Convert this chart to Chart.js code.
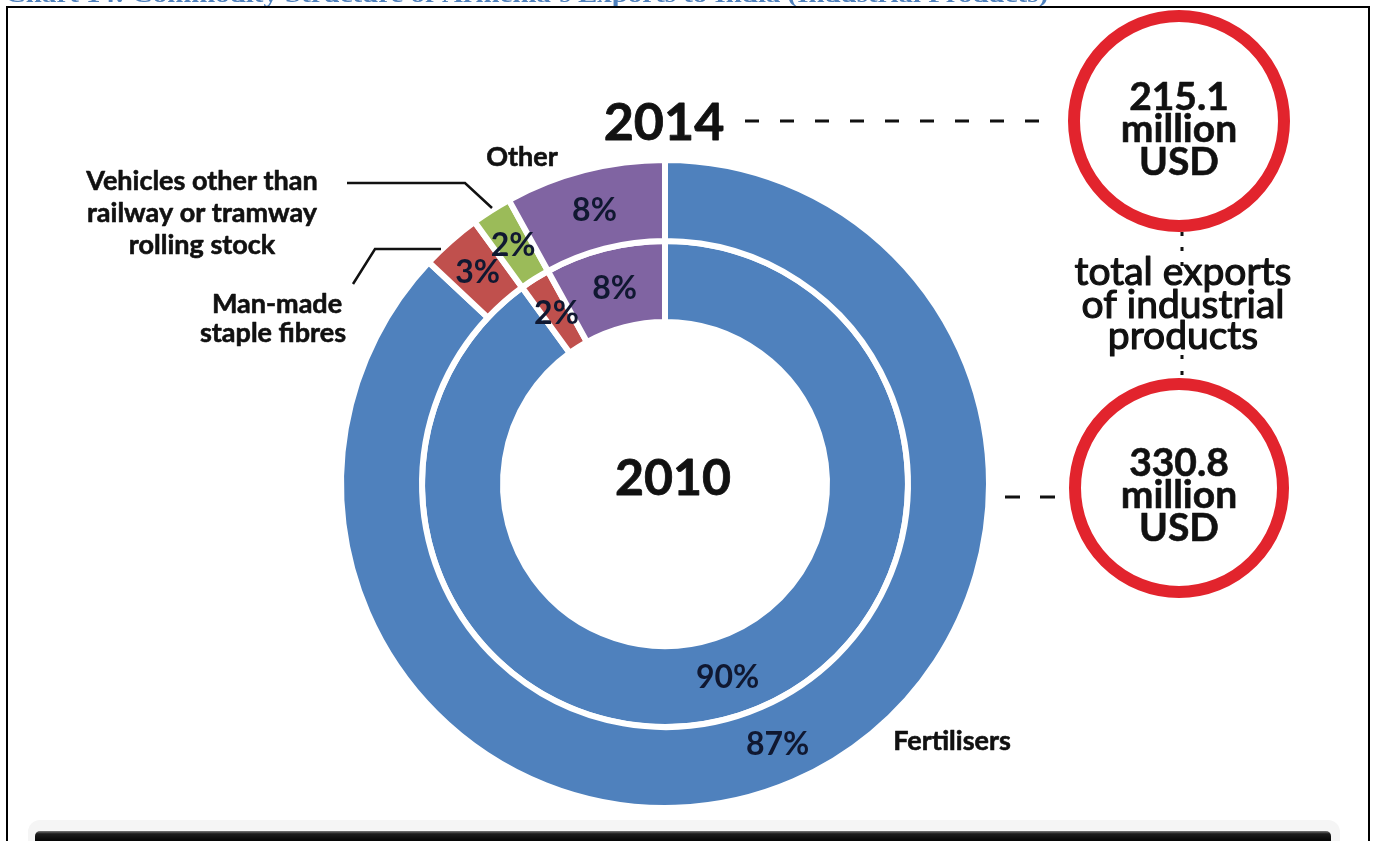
<!DOCTYPE html>
<html>
<head>
<meta charset="utf-8">
<script src="https://cdn.jsdelivr.net/npm/chart.js@4.4.0/dist/chart.umd.min.js"></script>
<style>
  html, body { margin: 0; padding: 0; background: #ffffff; overflow: hidden; }
  #wrap { position: relative; width: 1376px; height: 841px; }
  canvas { display: block; }
</style>
</head>
<body>
<div id="wrap"><canvas id="c" width="1376" height="841"></canvas></div>
<script>
// Export shares by product group, percent of total industrial exports
const categories = ['Fertilisers', 'Man-made staple fibres', 'Vehicles other than railway or tramway rolling stock', 'Other'];
const years = ['2014', '2010'];
const shares2014 = [87, 3, 2, 8];
const shares2010 = [90, 2, 0, 8];
// Total exports of industrial products, million USD
const totals = ['215.1', '330.8'];
const totalUnit = ['million', 'USD'];
const totalCaption = ['total exports', 'of industrial', 'products'];
const titleText = 'Chart 14: Commodity Structure of Armenia\u2019s Exports to India (Industrial Products)';

const sliceColors = ['#4f81bd', '#c0504d', '#9bbb59', '#8064a2'];
const ink = '#111111';

function line(ctx, pts, width, dash) {
  ctx.save();
  ctx.strokeStyle = ink;
  ctx.lineWidth = width;
  ctx.setLineDash(dash || []);
  ctx.beginPath();
  ctx.moveTo(pts[0][0], pts[0][1]);
  for (let i = 1; i < pts.length; i++) ctx.lineTo(pts[i][0], pts[i][1]);
  ctx.stroke();
  ctx.restore();
}

function text(ctx, str, x, y, font, heavy) {
  ctx.save();
  ctx.font = font;
  ctx.fillStyle = ink;
  ctx.textAlign = 'center';
  ctx.textBaseline = 'alphabetic';
  ctx.fillText(str, x, y);
  if (heavy) {
    ctx.strokeStyle = ink;
    ctx.lineWidth = heavy;
    ctx.lineJoin = 'round';
    ctx.strokeText(str, x, y);
  }
  ctx.restore();
}

const decorations = {
  id: 'decorations',
  afterDraw(chart) {
    const ctx = chart.ctx;

    // Caption above the frame (runs off the top of the page)
    ctx.save();
    ctx.font = 'bold 24px "Liberation Serif"';
    const w = ctx.measureText(titleText).width;
    ctx.translate(5, 2);
    ctx.scale(1043 / w, 1);
    ctx.fillStyle = '#4f81bd';
    ctx.textAlign = 'left';
    ctx.fillText(titleText, 0, 0);
    ctx.restore();

    // Frame
    ctx.save();
    ctx.strokeStyle = '#000';
    ctx.lineWidth = 2;
    ctx.beginPath();
    ctx.moveTo(7, 841); ctx.lineTo(7, 7); ctx.lineTo(1369, 7); ctx.lineTo(1369, 841);
    ctx.stroke();
    ctx.restore();

    // Bottom bar
    ctx.save();
    ctx.fillStyle = '#f5f5f5';
    ctx.beginPath();
    ctx.roundRect(28, 820, 1312, 40, 12);
    ctx.fill();
    const g = ctx.createLinearGradient(0, 830, 0, 841);
    g.addColorStop(0, '#9a9a9a');
    g.addColorStop(0.35, '#1c1c1c');
    g.addColorStop(1, '#050505');
    ctx.fillStyle = g;
    ctx.beginPath();
    ctx.roundRect(35, 831, 1296, 20, 5);
    ctx.fill();
    ctx.restore();

    // Percent labels at each slice midpoint
    chart.data.datasets.forEach((ds, di) => {
      const meta = chart.getDatasetMeta(di);
      meta.data.forEach((arc, i) => {
        const v = ds.data[i];
        if (!v) return;
        const p = arc.tooltipPosition();
        ctx.save();
        ctx.font = 'bold 32px Lato';
        ctx.fillStyle = '#101831';
        ctx.textAlign = 'center';
        ctx.textBaseline = 'middle';
        ctx.fillText(v + '%', p.x, p.y + 1);
        ctx.restore();
      });
    });

    // Category labels and leaders
    const lf = 'bold 27px Lato';
    text(ctx, categories[3], 522, 166, lf, 0.6);
    text(ctx, 'Vehicles other than', 202, 190, lf, 0.6);
    text(ctx, 'railway or tramway', 202, 222, lf, 0.6);
    text(ctx, 'rolling stock', 202, 254, lf, 0.6);
    text(ctx, 'Man-made', 277, 313, lf, 0.6);
    text(ctx, 'staple fibres', 273, 342, lf, 0.6);
    text(ctx, categories[0], 952, 750, lf, 0.6);
    line(ctx, [[347, 183], [465, 183], [492, 208]], 2.5);
    line(ctx, [[353, 284], [375, 249], [441, 249]], 2.5);

    // Year labels
    text(ctx, years[0], 664, 140, 'bold 52px Lato', 0.8);
    text(ctx, years[1], 673, 495, 'bold 50px Lato', 0.8);

    // Dashed connectors
    line(ctx, [[745, 121], [1050, 121]], 3, [14, 21]);
    line(ctx, [[1005, 497], [1060, 497]], 3, [15, 20]);
    line(ctx, [[1182, 232], [1182, 268]], 3, [4, 11]);
    line(ctx, [[1182, 355], [1182, 384]], 3, [4, 12]);

    // Totals in red rings
    ctx.save();
    ctx.strokeStyle = '#e2242d';
    ctx.lineWidth = 12;
    ctx.beginPath(); ctx.arc(1179, 121, 105, 0, Math.PI * 2); ctx.stroke();
    ctx.beginPath(); ctx.arc(1179, 488, 104, 0, Math.PI * 2); ctx.stroke();
    ctx.restore();

    const tf = 'bold 39px Lato';
    text(ctx, totals[0], 1179, 110, tf, 0.6);
    text(ctx, totalUnit[0], 1179, 142, tf, 0.6);
    text(ctx, totalUnit[1], 1179, 175, tf, 0.6);
    text(ctx, totals[1], 1179, 476, tf, 0.6);
    text(ctx, totalUnit[0], 1179, 508, tf, 0.6);
    text(ctx, totalUnit[1], 1179, 541, tf, 0.6);

    const cf = '39px Lato';
    text(ctx, totalCaption[0], 1183, 285, cf, 1.2);
    text(ctx, totalCaption[1], 1183, 318, cf, 1.2);
    text(ctx, totalCaption[2], 1183, 349, cf, 1.2);
  }
};

new Chart(document.getElementById('c'), {
  type: 'doughnut',
  data: {
    labels: categories,
    datasets: [
      { label: years[0], data: shares2014, backgroundColor: sliceColors, borderColor: '#ffffff', borderWidth: 6 },
      { label: years[1], data: shares2010, backgroundColor: sliceColors, borderColor: '#ffffff', borderWidth: 6 }
    ]
  },
  options: {
    responsive: false,
    animation: false,
    events: [],
    cutout: '50%',
    layout: { padding: { left: 338, top: 157, right: 384, bottom: 30 } },
    plugins: { legend: { display: false }, tooltip: { enabled: false } }
  },
  plugins: [decorations]
});
</script>
</body>
</html>
